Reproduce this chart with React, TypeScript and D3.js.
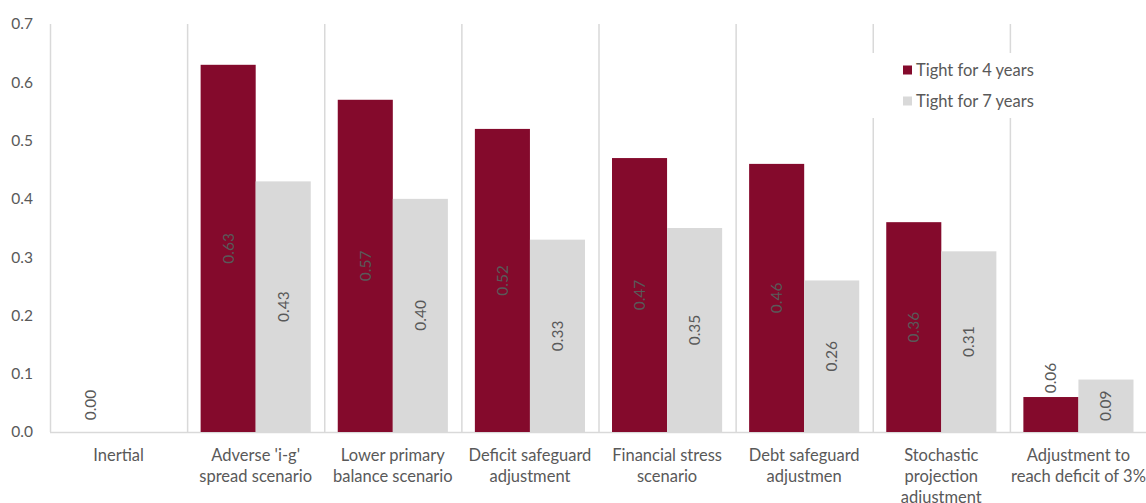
import React from "react";
import * as d3 from "d3";

const categories: string[][] = [
  ["Inertial"],
  ["Adverse 'i-g'", "spread scenario"],
  ["Lower primary", "balance scenario"],
  ["Deficit safeguard", "adjustment"],
  ["Financial stress", "scenario"],
  ["Debt safeguard", "adjustmen"],
  ["Stochastic", "projection", "adjustment"],
  ["Adjustment to", "reach deficit of 3%"],
];
const seriesNames = ["Tight for 4 years", "Tight for 7 years"];
const tight4: (number | null)[] = [0.0, 0.63, 0.57, 0.52, 0.47, 0.46, 0.36, 0.06];
const tight7: (number | null)[] = [null, 0.43, 0.4, 0.33, 0.35, 0.26, 0.31, 0.09];
const yTicks = [0, 0.1, 0.2, 0.3, 0.4, 0.5, 0.6, 0.7];
const colors = ["#840A2C", "#D9D9D9"];

const W = 1146;
const H = 503;
const left = 50;
const right = 1147;
const top = 24;
const bottom = 432;
const font = "Lato, 'Open Sans', sans-serif";
const textColor = "#595959";

export default function App() {
  const keys = categories.map((_, i) => String(i));
  const x0 = d3.scaleBand<string>().domain(keys).range([left, right]).padding(0);
  const bw = x0.bandwidth();
  const x1 = d3.scaleBand<string>().domain(seriesNames).range([13.5, bw - 13.5]).padding(0);
  const y = d3.scaleLinear().domain([0, 0.7]).range([bottom, top]);
  const series = [tight4, tight7];
  const labelLen = 32;

  return (
    <svg width={W} height={H} style={{ position: "absolute", left: 0, top: 0, background: "#fff" }}>
      {keys.map((k) => (
        <line key={"g" + k} x1={x0(k)! + 0.5} x2={x0(k)! + 0.5} y1={top} y2={bottom} stroke="#D9D9D9" strokeWidth={1.5} />
      ))}
      <line x1={left} x2={right} y1={bottom + 0.5} y2={bottom + 0.5} stroke="#D9D9D9" strokeWidth={1.5} />
      {yTicks.map((t) => (
        <text key={"y" + t} x={33} y={y(t)} dy="0.35em" textAnchor="end" fontFamily={font} fontSize={15.5} fill={textColor}>
          {t.toFixed(1)}
        </text>
      ))}
      {series.map((vals, si) =>
        vals.map((v, i) => {
          if (v === null) return null;
          const bx = x0(keys[i])! + x1(seriesNames[si])!;
          const w = x1.bandwidth();
          const yt = y(v);
          const h = bottom - yt;
          return <rect key={"b" + si + "-" + i} x={bx} y={yt} width={w} height={h} fill={colors[si]} />;
        })
      )}
      {series.map((vals, si) =>
        vals.map((v, i) => {
          if (v === null) return null;
          const cx = x0(keys[i])! + x1(seriesNames[si])! + x1.bandwidth() / 2;
          const yt = y(v);
          const h = bottom - yt;
          let cy: number;
          if (h >= labelLen + 6) cy = (yt + bottom) / 2;
          else cy = Math.min(yt - 3, bottom - 11) - labelLen / 2;
          return (
            <text
              key={"l" + si + "-" + i}
              transform={`translate(${cx},${cy}) rotate(-90)`}
              textAnchor="middle"
              dy="0.35em"
              fontFamily={font}
              fontSize={15.5}
              fill={textColor}
            >
              {v.toFixed(2)}
            </text>
          );
        })
      )}
      {categories.map((lines, i) => (
        <text key={"c" + i} textAnchor="middle" fontFamily={font} fontSize={16.5} fill={textColor}>
          {lines.map((ln, j) => (
            <tspan key={j} x={x0(keys[i])! + bw / 2} y={455 + j * 21} dy="0.35em">
              {ln}
            </tspan>
          ))}
        </text>
      ))}
      <rect x={868} y={53} width={148} height={65} fill="#fff" />
      {seriesNames.map((s, i) => (
        <g key={"lg" + i} transform={`translate(903,${70 + i * 31})`}>
          <rect x={0} y={-4.5} width={9} height={9} fill={colors[i]} />
          <text x={13} y={0} dy="0.35em" fontFamily={font} fontSize={16.5} fill={textColor}>
            {s}
          </text>
        </g>
      ))}
    </svg>
  );
}
